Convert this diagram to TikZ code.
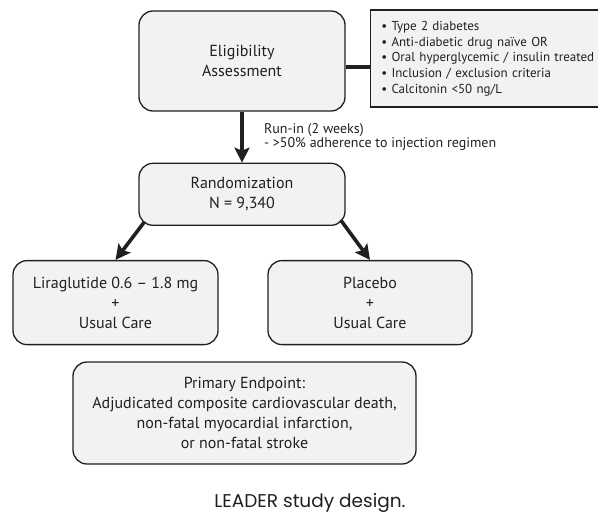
\documentclass[tikz,border=0pt]{standalone}
\usepackage{fontspec}
\setmainfont{PT Sans}
\newfontfamily\futfont{Poppins}
\usepackage{tikz}
\usetikzlibrary{arrows.meta, positioning}
\definecolor{mydark}{RGB}{35,31,32}
\definecolor{hdrgray}{RGB}{242,242,242}
\newcommand{\stepfont}{\fontsize{16}{20}\selectfont}
\newcommand{\critfont}{\fontsize{13}{15.7}\selectfont}
\newcommand{\notefont}{\fontsize{14}{14.5}\selectfont}
\newcommand{\capfont}{\futfont\fontsize{18.5}{22}\selectfont}
\tikzset{
  stepbox/.style={rectangle, draw=mydark, fill=hdrgray, text=mydark,
    align=center, font=\stepfont, rounded corners=14pt, line width=1.3pt},
  critbox/.style={rectangle, draw=mydark, fill=hdrgray, text=mydark,
    text width=225pt, inner xsep=11pt, align=left, minimum height=97pt,
    font=\critfont, line width=1.3pt},
  arrow/.style={-{Stealth[length=15pt, width=15pt, inset=3pt]},
    line width=3.6pt, color=mydark},
  line/.style={line width=4pt, color=mydark}
}

\begin{document}
\begin{tikzpicture}[x=1pt, y=1pt]
  \useasboundingbox (0,0) rectangle (598,-515);
  \node[stepbox, minimum width=206pt, minimum height=100pt] (elig) at (242,-61)
    {Eligibility\\Assessment};
  \node[critbox, right=24pt of elig, yshift=2.5pt] (crit)
    {• Type 2 diabetes\\
     • Anti-diabetic drug naïve OR\\
     • Oral hyperglycemic / insulin treated\\
     • Inclusion / exclusion criteria\\
     • Calcitonin <50 ng/L};
  \node[stepbox, minimum width=206pt, minimum height=62pt, below=51pt of elig] (rand)
    {Randomization\\N = 9,340};
  \node[stepbox, minimum width=205pt, minimum height=84pt, below=34pt of rand,
    xshift=-126.5pt] (lira) {Liraglutide 0.6 – 1.8 mg\\+\\Usual Care};
  \node[stepbox, minimum width=204pt, minimum height=84pt, below=34pt of rand,
    xshift=128pt] (placebo) {Placebo\\+\\Usual Care};
  \node[stepbox, minimum width=343pt, minimum height=102pt] (endpt) at (244.5,-413)
    {Primary Endpoint:\\Adjudicated composite cardiovascular death,\\
     non-fatal myocardial infarction,\\or non-fatal stroke};
  \node[font=\capfont, text=mydark] (caption) at (310,-503) {LEADER study design.};

  \draw[line] ([yshift=-6pt]elig.east) -- ([yshift=-6pt]elig.east -| crit.west);
  \draw[arrow] (elig) -- node[right=17pt, align=left, font=\notefont, text=mydark] (runin)
    {Run-in (2 weeks)\\- >50\% adherence to injection regimen} (rand);
  \draw[arrow] ([xshift=6pt, yshift=4pt]rand.south west) -- (lira.north);
  \draw[arrow] ([xshift=-5pt, yshift=6pt]rand.south east) -- (placebo.north);
\end{tikzpicture}
\end{document}
